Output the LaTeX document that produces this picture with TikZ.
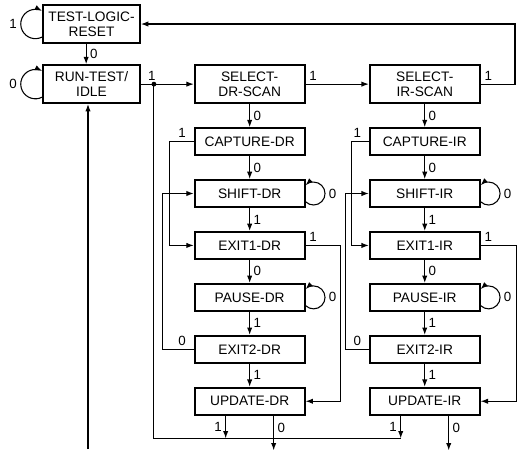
\documentclass[tikz,border=0pt]{standalone}
\usepackage{fontspec}
\setmainfont{Liberation Sans}
\usetikzlibrary{arrows.meta, positioning}

\begin{document}
\begin{tikzpicture}[x=0.75pt, y=-0.75pt, node distance=17.3pt,
  state/.style={rectangle, draw, line width=1.4pt, minimum width=82.5pt, minimum height=20.25pt, align=center, font=\fontsize{10.3}{11.2}\selectfont},
  scan/.style={state, minimum height=28.5pt},
  ctrl/.style={state, minimum width=72.75pt, minimum height=28.5pt},
  lbl/.style={font=\fontsize{10}{11}\selectfont, inner sep=2.5pt},
  arrow/.style={line width=0.8pt,->,>={Latex[length=5.5pt,width=4pt]}},
  wire/.style={line width=0.8pt}]

\useasboundingbox (0,0) rectangle (518,451);

\node[ctrl] (tlr) at (91.5,24) {TEST-LOGIC-\\RESET};
\node[ctrl, below=15.2pt of tlr] (rti) {RUN-TEST/\\IDLE};
\node[scan, right=39.6pt of rti] (seldr) {SELECT-\\DR-SCAN};
\node[scan, right=47.4pt of seldr] (selir) {SELECT-\\IR-SCAN};

% data register column
\node[state, below=of seldr] (capdr) {CAPTURE-DR};
\node[state, below=of capdr] (shiftdr) {SHIFT-DR};
\node[state, below=of shiftdr] (exit1dr) {EXIT1-DR};
\node[state, below=of exit1dr] (pausedr) {PAUSE-DR};
\node[state, below=of pausedr] (exit2dr) {EXIT2-DR};
\node[state, below=of exit2dr] (updr) {UPDATE-DR};

% instruction register column
\node[state, below=of selir] (capir) {CAPTURE-IR};
\node[state, below=of capir] (shiftir) {SHIFT-IR};
\node[state, below=of shiftir] (exit1ir) {EXIT1-IR};
\node[state, below=of exit1ir] (pauseir) {PAUSE-IR};
\node[state, below=of pauseir] (exit2ir) {EXIT2-IR};
\node[state, below=of exit2ir] (updir) {UPDATE-IR};

\coordinate (split) at ([xshift=9.75pt]rti.east);
\coordinate (topr) at (515,24);
\coordinate (rtiin) at (88,449);
\coordinate (busdr) at ([shift={(-18pt,-17pt)}]updr.south);
\coordinate (busir) at ([shift={(-18pt,-17pt)}]updir.south);
\coordinate (outdr) at ([shift={(18pt,-26pt)}]updr.south);
\coordinate (outir) at ([shift={(18pt,-26pt)}]updir.south);

% reset and idle
\draw[arrow] ([yshift=-9.8pt]tlr.west) arc[start angle=-63, end angle=-180, radius=11pt] node[lbl,left]{1} arc[start angle=180, end angle=63, radius=11pt];
\draw[arrow] ([yshift=-9.8pt]rti.west) arc[start angle=-63, end angle=-180, radius=11pt] node[lbl,left]{0} arc[start angle=180, end angle=63, radius=11pt];
\draw[arrow] ([xshift=-4pt]tlr.south) -- node[lbl,right]{0} ([xshift=-4pt]rti.north);
\draw[arrow] (rti.east) -- (split) node[lbl,above,xshift=-1.5pt]{1} -- (seldr.west);
\fill (split) circle[radius=1.8pt];
\draw[arrow] (rtiin) -- (rtiin |- rti.south);

% select states
\draw[arrow] (seldr.east) node[lbl,above right]{1} -- (selir.west);
\draw[arrow] (selir.east) node[lbl,above right]{1} -| (topr) -- (tlr.east);

% data register path
\draw[arrow] (seldr) -- node[lbl,right]{0} (capdr);
\draw[arrow] (capdr) -- node[lbl,right]{0} (shiftdr);
\draw[arrow] (shiftdr) -- node[lbl,right]{1} (exit1dr);
\draw[arrow] (exit1dr) -- node[lbl,right]{0} (pausedr);
\draw[arrow] (pausedr) -- node[lbl,right]{1} (exit2dr);
\draw[arrow] (exit2dr) -- node[lbl,right]{1} (updr);
\draw[arrow] (capdr.west) node[lbl,above left,xshift=-3pt]{1} -- ++(-18.4pt,0pt) |- (exit1dr.west);
\draw[arrow] (exit2dr.west) node[lbl,above left,xshift=-3pt]{0} -- ++(-23.6pt,0pt) |- (shiftdr.west);
\draw[arrow] (exit1dr.east) node[lbl,above right]{1} -- ++(25.9pt,0pt) |- (updr.east);

% instruction register path
\draw[arrow] (selir) -- node[lbl,right]{0} (capir);
\draw[arrow] (capir) -- node[lbl,right]{0} (shiftir);
\draw[arrow] (shiftir) -- node[lbl,right]{1} (exit1ir);
\draw[arrow] (exit1ir) -- node[lbl,right]{0} (pauseir);
\draw[arrow] (pauseir) -- node[lbl,right]{1} (exit2ir);
\draw[arrow] (exit2ir) -- node[lbl,right]{1} (updir);
\draw[arrow] (capir.west) node[lbl,above left,xshift=-3pt]{1} -- ++(-13pt,0pt) |- (exit1ir.west);
\draw[arrow] (exit2ir.west) node[lbl,above left,xshift=-3pt]{0} -- ++(-17.6pt,0pt) |- (shiftir.west);
\draw[arrow] (exit1ir.east) node[lbl,above right]{1} -- ++(27pt,0pt) |- (updir.east);

% shift and pause loops
\foreach \n in {shiftdr,pausedr,shiftir,pauseir}
  \draw[arrow] ([yshift=-6.2pt]\n.east) arc[start angle=226, end angle=360, radius=8.6pt] node[lbl,right]{0} arc[start angle=0, end angle=134, radius=8.6pt];

% update exits
\draw[wire] (split) |- (busir);
\draw[arrow] ([xshift=-18pt]updr.south) -- node[lbl,left]{1} (busdr);
\draw[arrow] ([xshift=18pt]updr.south) -- node[lbl,right,pos=0.35]{0} (outdr);
\draw[arrow] ([xshift=-18pt]updir.south) -- node[lbl,left]{1} (busir);
\draw[arrow] ([xshift=18pt]updir.south) -- node[lbl,right,pos=0.35]{0} (outir);

\end{tikzpicture}
\end{document}
